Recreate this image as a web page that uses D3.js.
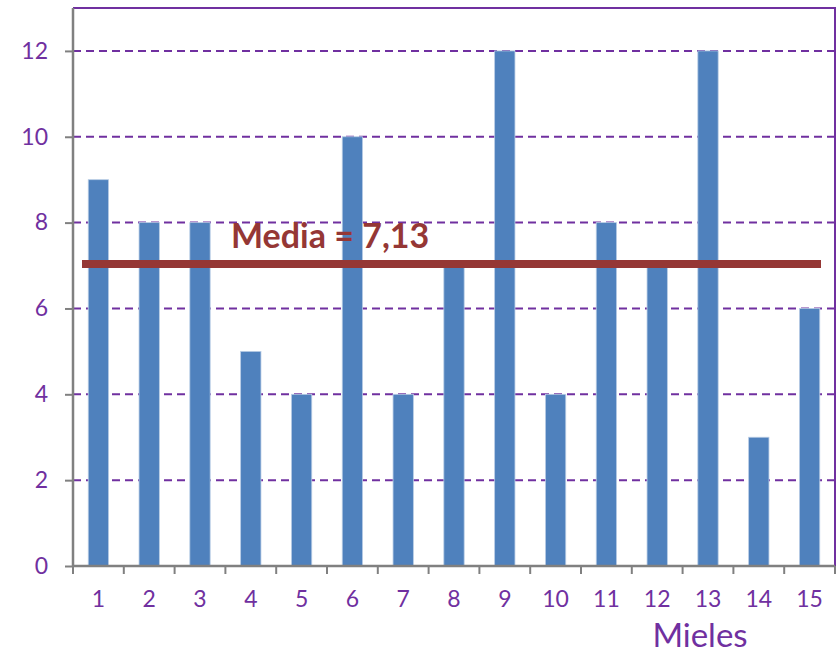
<!DOCTYPE html>
<html><head><meta charset="utf-8">
<script src="https://cdn.jsdelivr.net/npm/d3@7"></script>
<style>body{margin:0;background:#fff;}svg{display:block;}</style>
</head><body>
<svg id="c" width="836" height="653"></svg>
<script>
const categories = ["1","2","3","4","5","6","7","8","9","10","11","12","13","14","15"];
const values = [9,8,8,5,4,10,4,7,12,4,8,7,12,3,6];
const yTicks = [0,2,4,6,8,10,12];
const meanValue = 7.13;
const meanLabel = "Media = 7,13";
const xTitle = "Mieles";

const svg = d3.select("#c");
const L = 73, R = 835, T = 8, B = 566;
const x = d3.scaleBand().domain(categories).range([L, R]).paddingInner(0.6).paddingOuter(0.3);
const xb = d3.scaleBand().domain(categories).range([L, R]);
const y = d3.scaleLinear().domain([0, 13]).range([B, T]);
const purple = "#7030A0", font = "Lato, 'Open Sans', sans-serif";

// gridlines
svg.append("g").selectAll("line").data(yTicks.filter(d => d > 0)).join("line")
  .attr("x1", L).attr("x2", R).attr("y1", d => y(d)).attr("y2", d => y(d))
  .attr("stroke", purple).attr("stroke-width", 2).attr("stroke-dasharray", "8,5");

// plot border top/right
svg.append("path").attr("d", `M${L},${T}H${R}V${B}`).attr("fill", "none")
  .attr("stroke", purple).attr("stroke-width", 2);

// bars
svg.append("g").selectAll("rect").data(values).join("rect")
  .attr("x", (d, i) => x(categories[i])).attr("width", x.bandwidth())
  .attr("y", d => y(d)).attr("height", d => B - y(d))
  .attr("fill", "#4F81BD").attr("stroke", "#B9CDE5").attr("stroke-width", 0.8);

// y axis
const ya = svg.append("g").attr("transform", `translate(${L},0)`)
  .call(d3.axisLeft(y).tickValues(yTicks).tickSize(8).tickPadding(17));
ya.select(".domain").attr("d", `M0,${T}V${B}`).attr("stroke", "#808080").attr("stroke-width", 2.5);
ya.selectAll(".tick line").attr("stroke", "#808080").attr("stroke-width", 2);
ya.selectAll("text").attr("fill", purple).attr("font-family", font).attr("font-size", 23);

// x axis
const xa = svg.append("g").attr("transform", `translate(0,${B})`)
  .call(d3.axisBottom(xb).tickSize(0).tickPadding(25));
xa.select(".domain").attr("d", `M${L},0H${R}`).attr("stroke", "#808080").attr("stroke-width", 2.5);
xa.selectAll("text").attr("fill", purple).attr("font-family", font).attr("font-size", 23);
svg.append("g").selectAll("line").data(categories.concat(["end"])).join("line")
  .attr("x1", (d, i) => i < categories.length ? xb(d) : R)
  .attr("x2", (d, i) => i < categories.length ? xb(d) : R)
  .attr("y1", B).attr("y2", B + 8).attr("stroke", "#808080").attr("stroke-width", 2);

// x title
svg.append("text").attr("x", 700).attr("y", 647).attr("text-anchor", "middle")
  .attr("fill", purple).attr("font-family", font).attr("font-size", 33).text(xTitle);

// mean line
svg.append("line").attr("x1", 82).attr("x2", 821)
  .attr("y1", y(meanValue) + 4).attr("y2", y(meanValue) + 4)
  .attr("stroke", "#953735").attr("stroke-width", 8);
svg.append("text").attr("x", 231).attr("y", 248).attr("fill", "#953735")
  .attr("font-family", font).attr("font-weight", "bold").attr("font-size", 34).text(meanLabel);
</script>
</body></html>
